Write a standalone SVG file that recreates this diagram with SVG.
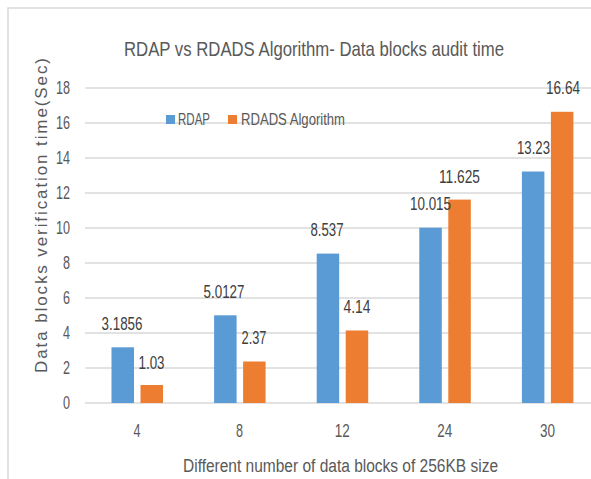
<svg xmlns="http://www.w3.org/2000/svg" width="591" height="479" viewBox="0 0 591 479">
<style>
text{font-family:"Liberation Sans",Arial,sans-serif;fill:#595959}
.grid{stroke:#d9d9d9;stroke-width:1.5}
.blue{fill:#5b9bd5}
.orange{fill:#ed7d31}
.tick{font-size:18px;text-anchor:end}
.xt{font-size:18px;text-anchor:middle}
.lbl{font-size:18px;text-anchor:middle;fill:#404040}
.leg{font-size:16px}
</style>
<rect x="0" y="0" width="591" height="479" fill="#ffffff"/>
<g id="frame">
<path d="M8 479V8H591" fill="none" stroke="#d9d9d9" stroke-width="1.5"/>
</g>
<g id="title">
<text x="314" y="56" font-size="21" text-anchor="middle" textLength="380" lengthAdjust="spacingAndGlyphs">RDAP vs RDADS Algorithm- Data blocks audit time</text>
</g>
<g id="gridlines">
<line class="grid" x1="85" y1="88" x2="591" y2="88"/>
<line class="grid" x1="85" y1="123" x2="591" y2="123"/>
<line class="grid" x1="85" y1="158" x2="591" y2="158"/>
<line class="grid" x1="85" y1="193" x2="591" y2="193"/>
<line class="grid" x1="85" y1="228" x2="591" y2="228"/>
<line class="grid" x1="85" y1="263" x2="591" y2="263"/>
<line class="grid" x1="85" y1="298" x2="591" y2="298"/>
<line class="grid" x1="85" y1="333" x2="591" y2="333"/>
<line class="grid" x1="85" y1="368" x2="591" y2="368"/>
<line class="grid" x1="85" y1="403" x2="591" y2="403"/>
</g>
<g id="y-axis">
<text class="tick" x="70" y="94" textLength="14" lengthAdjust="spacingAndGlyphs">18</text>
<text class="tick" x="70" y="129" textLength="14" lengthAdjust="spacingAndGlyphs">16</text>
<text class="tick" x="70" y="164" textLength="14" lengthAdjust="spacingAndGlyphs">14</text>
<text class="tick" x="70" y="199" textLength="14" lengthAdjust="spacingAndGlyphs">12</text>
<text class="tick" x="70" y="234" textLength="14" lengthAdjust="spacingAndGlyphs">10</text>
<text class="tick" x="70" y="269" textLength="7" lengthAdjust="spacingAndGlyphs">8</text>
<text class="tick" x="70" y="304" textLength="7" lengthAdjust="spacingAndGlyphs">6</text>
<text class="tick" x="70" y="339" textLength="7" lengthAdjust="spacingAndGlyphs">4</text>
<text class="tick" x="70" y="374" textLength="7" lengthAdjust="spacingAndGlyphs">2</text>
<text class="tick" x="70" y="409" textLength="7" lengthAdjust="spacingAndGlyphs">0</text>
<text transform="translate(47 215.5) rotate(-90)" x="0" y="0" font-size="17" text-anchor="middle" textLength="315" lengthAdjust="spacing">Data blocks verification time(Sec)</text>
</g>
<g id="x-axis">
<text class="xt" x="137" y="437" textLength="7" lengthAdjust="spacingAndGlyphs">4</text>
<text class="xt" x="239.6" y="437" textLength="7" lengthAdjust="spacingAndGlyphs">8</text>
<text class="xt" x="342.2" y="437" textLength="15" lengthAdjust="spacingAndGlyphs">12</text>
<text class="xt" x="444.8" y="437" textLength="15" lengthAdjust="spacingAndGlyphs">24</text>
<text class="xt" x="547.4" y="437" textLength="15" lengthAdjust="spacingAndGlyphs">30</text>
<text x="340.5" y="472" font-size="18" text-anchor="middle" textLength="315" lengthAdjust="spacingAndGlyphs">Different number of data blocks of 256KB size</text>
</g>
<g id="legend">
<rect class="blue" x="166" y="115" width="9" height="9"/>
<text class="leg" x="178" y="125" textLength="32" lengthAdjust="spacingAndGlyphs">RDAP</text>
<rect class="orange" x="228" y="115" width="9" height="9"/>
<text class="leg" x="241" y="125" textLength="104" lengthAdjust="spacingAndGlyphs">RDADS Algorithm</text>
</g>
<g id="series-rdap">
<rect class="blue" x="111.5" y="347.3" width="22.5" height="55.7"/>
<rect class="blue" x="214.1" y="315.3" width="22.5" height="87.7"/>
<rect class="blue" x="316.7" y="253.6" width="22.5" height="149.4"/>
<rect class="blue" x="419.3" y="227.7" width="22.5" height="175.3"/>
<rect class="blue" x="521.9" y="171.5" width="22.5" height="231.5"/>
</g>
<g id="series-rdads">
<rect class="orange" x="140.5" y="385" width="22.5" height="18"/>
<rect class="orange" x="243.1" y="361.5" width="22.5" height="41.5"/>
<rect class="orange" x="345.7" y="330.5" width="22.5" height="72.5"/>
<rect class="orange" x="448.3" y="199.6" width="22.5" height="203.4"/>
<rect class="orange" x="550.9" y="111.8" width="22.5" height="291.2"/>
</g>
<g id="data-labels">
<text class="lbl" x="122" y="329.5" textLength="41" lengthAdjust="spacingAndGlyphs">3.1856</text>
<text class="lbl" x="151.5" y="368.5" textLength="26" lengthAdjust="spacingAndGlyphs">1.03</text>
<text class="lbl" x="224" y="298" textLength="41" lengthAdjust="spacingAndGlyphs">5.0127</text>
<text class="lbl" x="254" y="344" textLength="25" lengthAdjust="spacingAndGlyphs">2.37</text>
<text class="lbl" x="327" y="236" textLength="33" lengthAdjust="spacingAndGlyphs">8.537</text>
<text class="lbl" x="357" y="313" textLength="27" lengthAdjust="spacingAndGlyphs">4.14</text>
<text class="lbl" x="430.5" y="210" textLength="41" lengthAdjust="spacingAndGlyphs">10.015</text>
<text class="lbl" x="459.5" y="183" textLength="41" lengthAdjust="spacingAndGlyphs">11.625</text>
<text class="lbl" x="533.5" y="154" textLength="33" lengthAdjust="spacingAndGlyphs">13.23</text>
<text class="lbl" x="563" y="94" textLength="34" lengthAdjust="spacingAndGlyphs">16.64</text>
</g>
</svg>
